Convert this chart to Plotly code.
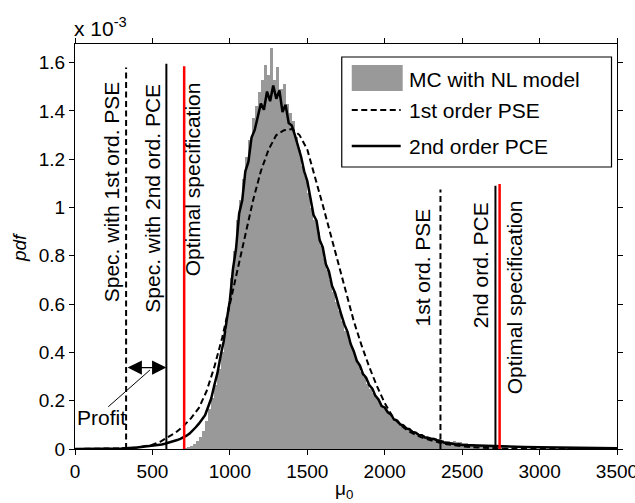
import plotly.graph_objects as go

# ---------------- data (pdf values in units of 1e-3) ----------------
hist_x = [710, 730, 750, 770, 790, 810, 830, 850, 870, 890, 910, 930, 950, 970, 990,
          1010, 1030, 1050, 1070, 1090, 1110, 1130, 1150, 1170, 1190, 1210, 1230, 1250, 1270, 1290,
          1310, 1330, 1350, 1370, 1390, 1410, 1430, 1450, 1470, 1490, 1510, 1530, 1550, 1570, 1590,
          1610, 1630, 1650, 1670, 1690, 1710, 1730, 1750, 1770, 1790, 1810, 1830, 1850, 1870, 1890,
          1910, 1930, 1950, 1970, 1990, 2010, 2030, 2050, 2070, 2090, 2110, 2130, 2150, 2170, 2190,
          2210, 2230, 2250, 2270, 2290, 2310, 2330, 2350, 2370, 2390, 2410, 2430, 2450, 2470, 2490,
          2510, 2530, 2550, 2570, 2590, 2610, 2630, 2650, 2670, 2690, 2710, 2730, 2750, 2770, 2790]
hist_y = [0.004, 0.008, 0.012, 0.020, 0.035, 0.050, 0.075, 0.115, 0.165, 0.210, 0.265, 0.330, 0.400, 0.490, 0.590,
          0.710, 0.820, 0.950, 1.030, 1.120, 1.210, 1.280, 1.370, 1.420, 1.480, 1.530, 1.590, 1.550, 1.660, 1.530,
          1.580, 1.490, 1.510, 1.430, 1.390, 1.360, 1.290, 1.240, 1.170, 1.130, 1.060, 1.000, 0.950, 0.900, 0.840,
          0.790, 0.740, 0.700, 0.650, 0.610, 0.570, 0.530, 0.490, 0.450, 0.420, 0.380, 0.350, 0.320, 0.300, 0.270,
          0.250, 0.230, 0.210, 0.190, 0.175, 0.160, 0.145, 0.130, 0.120, 0.110, 0.100, 0.092, 0.085, 0.078, 0.072,
          0.066, 0.062, 0.058, 0.054, 0.050, 0.047, 0.044, 0.040, 0.038, 0.035, 0.033, 0.031, 0.034, 0.028, 0.030,
          0.024, 0.026, 0.020, 0.022, 0.018, 0.015, 0.016, 0.012, 0.010, 0.009, 0.008, 0.006, 0.005, 0.004, 0.003]

pse_x = [0, 100, 200, 300, 350, 400, 450, 500, 550, 600, 650, 700, 750, 800, 850, 900, 950,
         1000, 1050, 1100, 1150, 1200, 1250, 1300, 1350, 1400, 1450, 1500, 1550, 1600, 1650,
         1700, 1750, 1800, 1850, 1900, 1950, 2000, 2050, 2100, 2150, 2200, 2250, 2300, 2350,
         2400, 2450, 2500, 2600, 2700, 2800, 3000, 3500]
pse_y = [0.0, 0.0, 0.0005, 0.0015, 0.003, 0.006, 0.011, 0.018, 0.030, 0.048, 0.068, 0.095, 0.128, 0.170, 0.240, 0.340, 0.460,
         0.600, 0.740, 0.890, 1.030, 1.150, 1.240, 1.300, 1.320, 1.325, 1.300, 1.240, 1.130, 1.010, 0.890,
         0.770, 0.650, 0.530, 0.430, 0.340, 0.260, 0.190, 0.135, 0.100, 0.075, 0.058, 0.045, 0.035, 0.027,
         0.020, 0.015, 0.011, 0.006, 0.003, 0.0015, 0.0, 0.0]

pce_x = [0, 100, 200, 300, 400,
         500, 520, 540, 560, 580, 600, 620, 640, 660, 680, 700, 720, 740, 760, 780,
         800, 820, 840, 860, 880, 900, 920, 940, 960, 980, 1000, 1020, 1040, 1060, 1080,
         1100, 1120, 1140, 1160, 1180, 1200, 1220, 1240, 1260, 1280, 1300, 1320, 1340, 1360, 1380,
         1400, 1420, 1440, 1460, 1480, 1500, 1520, 1540, 1560, 1580, 1600, 1620, 1640, 1660, 1680,
         1700, 1720, 1740, 1760, 1780, 1800, 1820, 1840, 1860, 1880, 1900, 1920, 1940, 1960, 1980,
         2000, 2020, 2040, 2060, 2080, 2100, 2120, 2140, 2160, 2180, 2200, 2220, 2240, 2260, 2280,
         2300, 2320, 2340, 2360, 2380, 2400, 2420, 2440, 2460, 2480, 2500,
         2600, 2700, 2800, 2900, 3000, 3100, 3200, 3300, 3400, 3500]
pce_y = [0.0, 0.0, 0.001, 0.002, 0.006,
         0.013, 0.015, 0.017, 0.019, 0.022, 0.025, 0.028, 0.032, 0.037, 0.042, 0.048, 0.055, 0.064, 0.075, 0.090,
         0.105, 0.125, 0.140, 0.175, 0.210, 0.265, 0.315, 0.385, 0.445, 0.535, 0.615, 0.745, 0.830, 0.975, 1.030,
         1.150, 1.190, 1.290, 1.320, 1.375, 1.430, 1.405, 1.480, 1.440, 1.505, 1.450, 1.485, 1.395, 1.425, 1.350,
         1.340, 1.300, 1.260, 1.210, 1.150, 1.110, 1.040, 0.970, 0.945, 0.865, 0.835, 0.765, 0.735, 0.675, 0.645,
         0.595, 0.555, 0.515, 0.485, 0.435, 0.405, 0.365, 0.345, 0.310, 0.295, 0.265, 0.250, 0.220, 0.205, 0.178,
         0.172, 0.152, 0.143, 0.122, 0.118, 0.102, 0.098, 0.085, 0.082, 0.070, 0.068, 0.058, 0.057, 0.048, 0.047,
         0.042, 0.041, 0.035, 0.033, 0.027, 0.026, 0.023, 0.022, 0.019, 0.020, 0.017,
         0.014, 0.012, 0.010, 0.008, 0.007, 0.006, 0.005, 0.004, 0.004, 0.003]

# specification lines: position, height, style
spec_x = [330, 590, 705, 2360, 2715, 2742]
spec_h = [1.58, 1.595, 1.585, 1.075, 1.09, 1.097]
spec_color = ["black", "black", "red", "black", "black", "red"]
spec_dash = ["6px,3.5px", "solid", "solid", "6px,3.5px", "solid", "solid"]
spec_width = [2, 2, 2.5, 2, 2, 2.5]

spec_labels = ["Spec. with 1st ord. PSE", "Spec. with 2nd ord. PCE", "Optimal specification",
               "1st ord. PSE", "2nd ord. PCE", "Optimal specification"]
label_x = [237, 495, 761, 2245, 2624, 2839]
label_y = [1.066, 1.039, 1.116, 0.75, 0.762, 0.627]

legend_names = ["MC with NL model", "1st order PSE", "2nd order PCE"]

x_ticks = [0, 500, 1000, 1500, 2000, 2500, 3000, 3500]
y_ticks = [0, 0.2, 0.4, 0.6, 0.8, 1.0, 1.2, 1.4, 1.6]

FONT = "Liberation Sans, Arial, Helvetica, sans-serif"

# ---------------- figure ----------------
fig = go.Figure()

fig.add_trace(go.Bar(x=hist_x, y=hist_y, width=20, marker=dict(color="#999999", line=dict(width=0)),
                     name=legend_names[0], showlegend=False))
fig.add_trace(go.Scatter(x=pse_x, y=pse_y, mode="lines", line=dict(color="black", width=2, dash="6px,3.5px"),
                         name=legend_names[1], showlegend=False))
fig.add_trace(go.Scatter(x=pce_x, y=pce_y, mode="lines", line=dict(color="black", width=2.5),
                         name=legend_names[2], showlegend=False))

for sx, sh, c, d, w in zip(spec_x, spec_h, spec_color, spec_dash, spec_width):
    fig.add_trace(go.Scatter(x=[sx, sx], y=[0, sh], mode="lines",
                             line=dict(color=c, width=w, dash=d), showlegend=False, hoverinfo="skip"))

annotations = []
for t, lx, ly in zip(spec_labels, label_x, label_y):
    annotations.append(dict(x=lx, y=ly, xref="x", yref="y", text=t, showarrow=False, textangle=-90,
                            font=dict(family=FONT, size=21, color="black"),
                            xanchor="center", yanchor="middle"))

# Profit double arrow
annotations.append(dict(x=590, y=0.337, ax=330, ay=0.337, xref="x", yref="y", axref="x", ayref="y",
                        text="", showarrow=True, arrowside="end+start", arrowhead=2, arrowsize=2.2,
                        arrowwidth=1.3, arrowcolor="black"))
annotations.append(dict(x=168, y=0.13, xref="x", yref="y", text="Profit", showarrow=False,
                        font=dict(family=FONT, size=21, color="black"), xanchor="center", yanchor="middle"))

# axis labels and exponent (pixel -> paper helpers)
L, R, T, B = 75, 617.5, 44, 449
def px(xp):
    return (xp - L) / (R - L)
def py(yp):
    return (B - yp) / (B - T)

annotations.append(dict(x=px(344), y=py(503), xref="paper", yref="paper", text="\u03bc<sub>0</sub>",
                        showarrow=False, font=dict(family=FONT, size=19, color="black"),
                        xanchor="center", yanchor="bottom", borderpad=0))
annotations.append(dict(x=px(19), y=py(248), xref="paper", yref="paper", text="<i>pdf</i>",
                        showarrow=False, textangle=-90, font=dict(family=FONT, size=19, color="black"),
                        xanchor="center", yanchor="middle"))
annotations.append(dict(x=px(73), y=py(41), xref="paper", yref="paper", text="x 10<sup>-3</sup>",
                        showarrow=False, font=dict(family=FONT, size=21, color="black"),
                        xanchor="left", yanchor="bottom", borderpad=0))

# manual legend
shapes = []
lg_l, lg_r, lg_t, lg_b = 342, 612, 57, 167
shapes.append(dict(type="rect", xref="paper", yref="paper", x0=px(lg_l), x1=px(lg_r), y0=py(lg_b), y1=py(lg_t),
                   line=dict(color="black", width=1.2), fillcolor="white", layer="above"))
shapes.append(dict(type="rect", xref="paper", yref="paper", x0=px(352), x1=px(403), y0=py(91), y1=py(65),
                   line=dict(width=0), fillcolor="#999999", layer="above"))
shapes.append(dict(type="line", xref="paper", yref="paper", x0=px(352), x1=px(401), y0=py(110), y1=py(110),
                   line=dict(color="black", width=2, dash="6px,3.5px"), layer="above"))
shapes.append(dict(type="line", xref="paper", yref="paper", x0=px(352), x1=px(401), y0=py(146), y1=py(146),
                   line=dict(color="black", width=2.5), layer="above"))
shapes.append(dict(type="line", xref="x", yref="y", x0=215, y0=0.175, x1=484, y1=0.327,
                   line=dict(color="black", width=1)))
for name, yc in zip(legend_names, [79, 111, 146]):
    annotations.append(dict(x=px(407), y=py(yc), xref="paper", yref="paper", text=name, showarrow=False,
                            font=dict(family=FONT, size=21, color="black"), xanchor="left", yanchor="middle"))

fig.update_layout(
    width=635, height=503, autosize=False,
    margin=dict(l=L, r=635 - R, t=T, b=503 - B),
    paper_bgcolor="white", plot_bgcolor="white",
    bargap=0, showlegend=False,
    font=dict(family=FONT, size=19, color="black"),
    annotations=annotations, shapes=shapes,
)
fig.update_xaxes(range=[0, 3500], tickvals=x_ticks, ticks="outside", ticklen=5, tickwidth=1, tickcolor="black",
                 showline=True, linecolor="black", linewidth=1, mirror="ticks", showgrid=False, zeroline=False,
                 ticklabeloverflow="allow", automargin=False,
                 tickfont=dict(family=FONT, size=19, color="black"))
fig.update_yaxes(range=[0, 1.677], tickvals=y_ticks, ticks="outside", ticklen=5, tickwidth=1, tickcolor="black",
                 showline=True, linecolor="black", linewidth=1, mirror="ticks", showgrid=False, zeroline=False,
                 automargin=False,
                 tickfont=dict(family=FONT, size=19, color="black"))

fig.write_html("out.html")
